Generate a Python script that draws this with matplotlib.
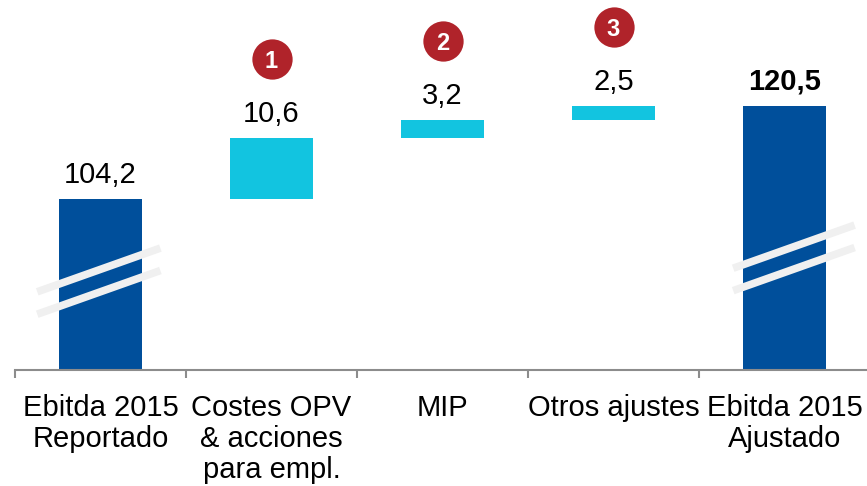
import matplotlib
matplotlib.use("Agg")
import matplotlib.pyplot as plt
from matplotlib.transforms import offset_copy

plt.rcParams['font.family'] = ['Liberation Sans', 'DejaVu Sans']

# datos del puente Ebitda 2015
categorias = ["Ebitda 2015\nReportado", "Costes OPV\n& acciones\npara empl.",
              "MIP", "Otros ajustes", "Ebitda 2015\nAjustado"]
valores = [104.2, 10.6, 3.2, 2.5, 120.5]
etiquetas = ["104,2", "10,6", "3,2", "2,5", "120,5"]
es_total = [True, False, False, False, True]
notas = [None, "1", "2", "3", None]

azul = "#004f9b"
cian = "#12c4e0"
rojo = "#b0232a"

# bases del waterfall
bases = []
acum = 0
for v, tot in zip(valores, es_total):
    if tot:
        bases.append(0)
        acum = v
    else:
        bases.append(acum)
        acum += v
tops = [b + v for b, v in zip(bases, valores)]
colores = [azul if t else cian for t in es_total]

fig = plt.figure(figsize=(8.67, 4.86), dpi=100)
ax = fig.add_axes([15 / 867, 116 / 486, 855 / 867, 370 / 486])

x = list(range(len(valores)))
ax.bar(x, valores, bottom=bases, width=0.49, color=colores, zorder=2)

# eje cortado (no a escala)
ax.set_ylim(74.5, 138.85)
ax.set_xlim(-0.5, 4.5)

# marcas de corte en las barras totales
cortes = {0: (-0.37, 0.35, 88.1, 95.7), 4: (3.70, 4.41, 92.2, 99.7)}
for i, (x0, x1, y0, y1) in cortes.items():
    for d in (0, -3.9):
        ax.plot([x0, x1], [y0 + d, y1 + d], color="#f0f0f0", lw=5.5,
                solid_capstyle="butt", zorder=3, clip_on=False)

# etiquetas de valor
for i in x:
    ax.annotate(etiquetas[i], xy=(i, tops[i]), xytext=(0, 11.5),
                textcoords="offset points", ha="center", va="baseline",
                fontsize=21, fontweight="bold" if i == 4 else "normal",
                color="black")

# circulos numerados
for i in x:
    if notas[i] is None:
        continue
    tr = offset_copy(ax.transData, fig=fig, x=0, y=79, units="dots")
    ax.plot(i, tops[i], "o", ms=29, color=rojo, mec="none", transform=tr,
            clip_on=False, zorder=4)
    ax.text(i, tops[i], notas[i], transform=tr, ha="center", va="center_baseline",
            color="white", fontsize=17, fontweight="bold", zorder=5)

# ejes
for s in ["top", "right", "left"]:
    ax.spines[s].set_visible(False)
ax.spines["bottom"].set_color("#8c8c8c")
ax.spines["bottom"].set_linewidth(1.5)
ax.set_yticks([])
ax.set_xticks(x)
ax.set_xticklabels(categorias, fontsize=21, linespacing=1.15)
ax.tick_params(axis="x", which="major", length=0, pad=17)
ax.set_xticks([-0.5, 0.5, 1.5, 2.5, 3.5, 4.5], minor=True)
ax.tick_params(axis="x", which="minor", length=6, width=1.5, color="#8c8c8c",
               direction="out")

fig.savefig("out.png", dpi=100)
